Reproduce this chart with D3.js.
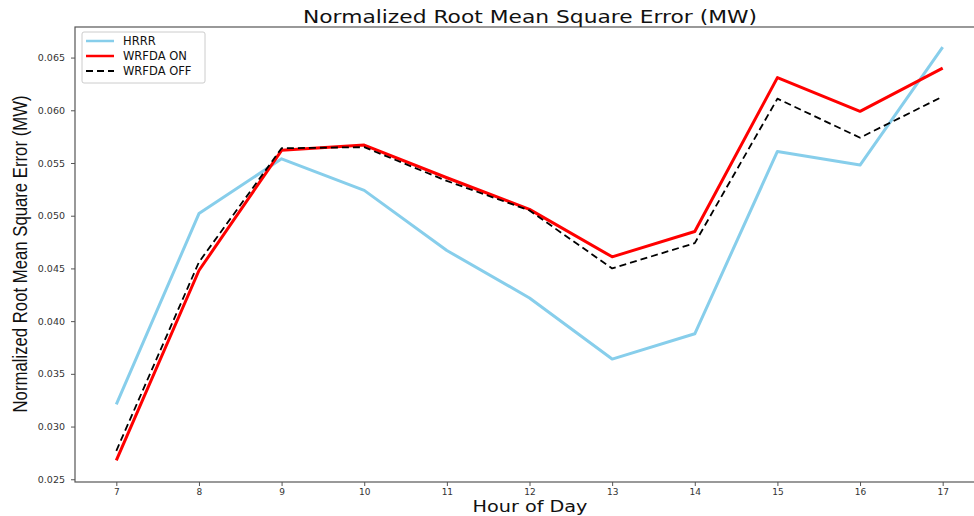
<!DOCTYPE html>
<html>
<head>
<meta charset="utf-8">
<script src="https://cdn.jsdelivr.net/npm/d3@7"></script>
<style>
  html, body { margin: 0; padding: 0; background: #fff; }
  svg { display: block; }
  text { font-family: "DejaVu Sans", sans-serif; }
</style>
</head>
<body>
<div id="chart"></div>
<script>
// Hours of the day on the x axis
const hours = [7, 8, 9, 10, 11, 12, 13, 14, 15, 16, 17];

// Normalized RMSE per hour for each forecast
const hrrr     = [0.0321, 0.0502, 0.0554, 0.0524, 0.0467, 0.0422, 0.0364, 0.0388, 0.0561, 0.0548, 0.0660];
const wrfdaOn  = [0.0268, 0.0448, 0.0562, 0.0567, 0.0536, 0.0506, 0.0461, 0.0485, 0.0631, 0.0599, 0.0640];
const wrfdaOff = [0.0277, 0.0456, 0.0564, 0.0565, 0.0533, 0.0505, 0.0450, 0.0474, 0.0611, 0.0574, 0.0613];

const yTicks = [0.025, 0.030, 0.035, 0.040, 0.045, 0.050, 0.055, 0.060, 0.065];

const seriesNames = ["HRRR", "WRFDA ON", "WRFDA OFF"];

const series = [
  { name: seriesNames[0], values: hrrr,     color: "#87CEEB", width: 3,   dash: null },
  { name: seriesNames[1], values: wrfdaOn,  color: "#FF0000", width: 3,   dash: null },
  { name: seriesNames[2], values: wrfdaOff, color: "#000000", width: 1.8, dash: "7,4" }
];

const W = 974, H = 516;
const margin = { left: 75, top: 27, right: -10, bottom: 34 };

const svg = d3.select("#chart").append("svg")
  .attr("width", W).attr("height", H);

const x = d3.scaleLinear().domain([6.5, 17.5]).range([margin.left, W - margin.right]);
const y = d3.scaleLinear().domain([0.02474, 0.0679]).range([H - margin.bottom, margin.top]);

const axisColor = "#555";

// x axis
const xAxis = svg.append("g")
  .attr("transform", `translate(0,${H - margin.bottom})`)
  .call(d3.axisBottom(x).tickValues(hours).tickFormat(d3.format("d")).tickSizeOuter(0).tickSize(4).tickPadding(3));
// y axis
const yAxis = svg.append("g")
  .attr("transform", `translate(${margin.left},0)`)
  .call(d3.axisLeft(y).tickValues(yTicks).tickFormat(d3.format(".3f")).tickSizeOuter(0).tickSize(4).tickPadding(6));

xAxis.selectAll("text").style("font-size", "9px");
yAxis.selectAll("text").style("font-size", "9.5px");
[xAxis, yAxis].forEach(g => {
  g.selectAll("path.domain").remove();
  g.selectAll("line").attr("stroke", axisColor);
  g.selectAll("text").attr("fill", "#333").style("font-family", "DejaVu Sans");
});

// frame (spines)
svg.append("rect")
  .attr("x", margin.left).attr("y", margin.top)
  .attr("width", x(17.5) - margin.left).attr("height", y.range()[0] - margin.top)
  .attr("fill", "none").attr("stroke", axisColor).attr("stroke-width", 1.2);

// lines
const line = d3.line()
  .x((d, i) => x(hours[i]))
  .y(d => y(d));

series.forEach(s => {
  svg.append("path")
    .datum(s.values)
    .attr("fill", "none")
    .attr("stroke", s.color)
    .attr("stroke-width", s.width)
    .attr("stroke-dasharray", s.dash)
    .attr("stroke-linejoin", "round")
    .attr("d", line);
});

// title
svg.append("text")
  .attr("x", 530).attr("y", 23)
  .attr("text-anchor", "middle")
  .attr("textLength", 454).attr("lengthAdjust", "spacingAndGlyphs")
  .style("font-size", "18px").attr("fill", "#111")
  .text("Normalized Root Mean Square Error (MW)");

// axis titles
svg.append("text")
  .attr("x", 530).attr("y", 512)
  .attr("text-anchor", "middle")
  .attr("textLength", 115).attr("lengthAdjust", "spacingAndGlyphs")
  .style("font-size", "16px").attr("fill", "#111")
  .text("Hour of Day");

svg.append("text")
  .attr("transform", "translate(27,254) rotate(-90)")
  .attr("text-anchor", "middle")
  .attr("textLength", 317).attr("lengthAdjust", "spacingAndGlyphs")
  .style("font-family", "'Liberation Sans', sans-serif")
  .style("font-size", "20px").attr("fill", "#111")
  .text("Normalized Root Mean Square Error (MW)");

// legend
const legend = svg.append("g").attr("transform", "translate(82,32)");
legend.append("rect")
  .attr("width", 123).attr("height", 51).attr("rx", 2)
  .attr("fill", "#fff").attr("stroke", "#ccc");
series.forEach((s, i) => {
  const ly = 9 + i * 15;
  legend.append("line")
    .attr("x1", 4).attr("x2", 32).attr("y1", ly).attr("y2", ly)
    .attr("stroke", s.color).attr("stroke-width", s.width === 3 ? 2.5 : 1.8)
    .attr("stroke-dasharray", s.dash);
  legend.append("text")
    .attr("x", 41).attr("y", ly + 4)
    .style("font-size", "11.5px").attr("fill", "#111")
    .text(s.name);
});
</script>
</body>
</html>
